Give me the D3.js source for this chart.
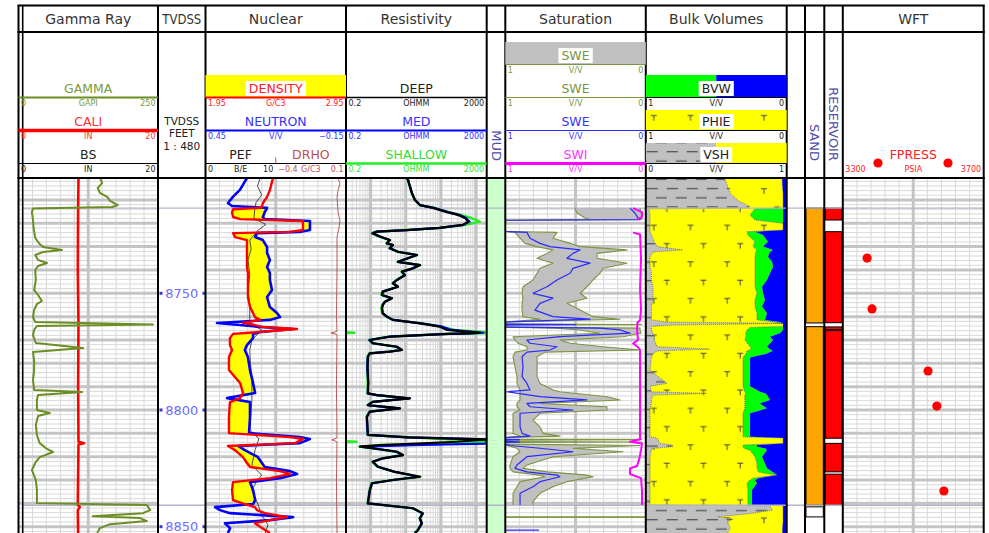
<!DOCTYPE html>
<html>
<head>
<meta charset="utf-8">
<title>Well log</title>
<script src="https://cdn.jsdelivr.net/npm/d3@7/dist/d3.min.js"></script>
<style>
  html, body { margin: 0; padding: 0; background: #fff; }
  svg { display: block; }
  text { font-family: "DejaVu Sans", sans-serif; }
</style>
</head>
<body>
<svg id="log" width="989" height="533"></svg>
<script>
// ---------- depth window and markers (feet TVDSS) ----------
const depthRange = [8700.6, 8852.7];
const depthLabels = [8750, 8800, 8850];
const zoneTops = [8713.5, 8840.8];

const trackTitles = ["Gamma Ray", "TVDSS", "Nuclear", "Resistivity", "", "Saturation", "Bulk Volumes", "", "", "", "WFT"];

// ---------- Gamma Ray track: [depth, value] ----------
const gammaRay = [
  [8700.6,146],[8702.7,150],[8704.9,142],[8707.0,146],[8708.7,159],[8710.4,164],[8712.2,178],[8713.0,168],
  [8713.7,26],[8715.2,24],[8718.6,26],[8722.0,27],[8726.3,30],[8728.9,38],[8730.2,44],[8731.4,78],
  [8732.3,44],[8733.6,30],[8735.7,35],[8737.0,51],[8738.3,35],[8740.0,30],[8744.3,31],[8748.6,28],
  [8750.7,35],[8753.3,42],[8754.6,33],[8757.2,28],[8760.2,26],[8762.3,30],[8763.4,241],[8764.0,33],
  [8765.7,28],[8767.9,26],[8771.3,31],[8773.4,116],[8775.2,26],[8778.6,28],[8782.9,28],[8787.2,26],
  [8791.4,28],[8792.3,114],[8793.6,35],[8795.7,33],[8800.0,33],[8801.3,56],[8802.6,35],[8806.4,31],
  [8810.7,33],[8814.2,38],[8816.7,51],[8818.0,62],[8820.2,38],[8822.7,30],[8825.7,24],[8830.0,31],
  [8834.3,33],[8839.9,33],[8840.7,230],[8842.9,236],[8844.2,223],[8845.5,133],[8846.3,218],[8847.6,230],
  [8848.9,164],[8850.6,146],[8852.7,141]
];
const caliper = [
  [8700.6,8.6],[8713.5,8.55],[8740,8.5],[8763,8.6],[8790,8.55],[8813.6,8.6],[8814.2,9.4],[8814.8,8.6],
  [8840.7,8.5],[8841.5,8.8],[8843,8.5],[8852.7,8.55]
];

// ---------- Nuclear track ----------
const nucDepth = [
  8700.6,8705.7,8708.7,8711.3,8712.6,8713.4,8714.0,8715.2,8717.3,8718.2,
  8719.0,8722.9,8723.7,8724.2,8725.9,8727.2,8730.2,8732.7,8735.7,8738.7,
  8741.3,8744.3,8748.6,8751.6,8755.9,8758.4,8760.2,8761.4,8762.7,8763.6,
  8764.4,8765.3,8766.6,8767.4,8769.2,8772.2,8774.3,8777.3,8782.9,8788.4,
  8792.7,8794.9,8796.6,8803.0,8809.9,8811.6,8812.4,8814.2,8815.4,8817.2,
  8820.2,8822.7,8824.4,8826.2,8827.4,8829.2,8830.9,8834.3,8838.6,8840.3,
  8841.6,8842.9,8844.2,8845.9,8847.2,8848.5,8850.6,8852.7
];
const neutron = [
  0.273,0.303,0.333,0.354,0.337,0.187,0.190,0.197,0.205,0.197,
  0.004,0.004,0.047,0.230,0.238,0.205,0.187,0.187,0.175,0.187,
  0.175,0.175,0.166,0.187,0.175,0.145,0.132,0.175,0.401,0.303,
  0.218,0.076,0.214,0.247,0.247,0.273,0.282,0.269,0.260,0.247,
  0.238,0.358,0.260,0.260,0.264,0.047,0.004,0.047,0.311,0.282,
  0.226,0.209,0.197,0.089,0.059,0.132,0.260,0.247,0.238,0.247,
  0.409,0.388,0.345,0.076,0.175,0.367,0.345,0.354
];
const density = [
  2.430,2.409,2.388,2.359,2.352,2.338,2.146,2.139,2.146,2.196,
  2.644,2.644,2.551,2.146,2.160,2.245,2.245,2.245,2.245,2.245,
  2.252,2.252,2.252,2.252,2.267,2.288,2.302,2.338,2.217,2.302,
  2.352,2.601,2.324,2.146,2.124,2.124,2.139,2.117,2.117,2.196,
  2.217,2.196,2.124,2.117,2.117,2.551,2.644,2.587,2.110,2.160,
  2.217,2.245,2.267,2.480,2.551,2.409,2.146,2.139,2.146,2.231,
  2.302,2.316,2.373,2.530,2.409,2.302,2.352,2.409
];
const pef = [
  [8700.6,7.8],[8704,7.4],[8707.9,8.0],[8711,7.2],[8714.3,7.0],[8718,6.9],[8720.5,8.6],[8722.9,7.5],
  [8727.2,6.3],[8731,6.5],[8735.7,6.05],[8742,6.3],[8748.6,6.05],[8753,6.2],[8757.2,6.3],[8762.3,6.3],
  [8764,7.0],[8765.7,8.0],[8770,6.6],[8774.3,6.3],[8780,6.4],[8787.2,6.6],[8795.7,6.6],[8800,6.5],
  [8808.6,6.3],[8812.3,7.6],[8817.2,7.05],[8823.6,6.6],[8827.9,8.0],[8831,7.2],[8834.3,6.6],[8840.7,7.5],
  [8845,8.0],[8849.3,8.9],[8852.7,8.5]
];
const drho = [
  [8700.6,0.043],[8703,0.057],[8706,0.043],[8709,0.036],[8715,0.043],[8719,0.057],[8722,0.05],[8726,0.036],
  [8740,0.036],[8760,0.032],[8766.3,0.036],[8767.0,-0.007],[8767.6,0.036],[8790,0.032],[8812.0,0.036],
  [8812.8,0.0],[8813.6,0.036],[8830,0.032],[8852.7,0.036]
];

// ---------- Resistivity track (ohm.m) ----------
const resDepth = [
  8700.6,8701.4,8707.1,8710.0,8712.2,8713.4,8715.2,8716.4,8717.7,8719.3,
  8720.7,8722.0,8722.9,8723.6,8724.3,8725.7,8727.2,8728.6,8729.3,8730.7,
  8732.2,8733.6,8735.0,8736.5,8737.9,8739.3,8740.7,8742.2,8744.3,8745.7,
  8747.2,8749.3,8750.7,8752.1,8753.6,8755.0,8756.4,8758.6,8760.0,8761.4,
  8762.9,8764.3,8765.7,8766.9,8767.2,8767.4,8768.6,8770.0,8771.4,8772.9,
  8774.3,8775.0,8775.7,8777.2,8782.0,8788.0,8792.9,8793.6,8795.0,8796.5,
  8797.9,8799.3,8800.7,8802.9,8810.7,8811.7,8812.6,8813.6,8814.4,8815.0,
  8815.7,8816.4,8817.9,8819.3,8820.7,8822.2,8824.3,8826.5,8828.6,8830.0,
  8831.4,8834.3,8840.0,8842.1,8844.3,8846.4,8848.6,8851.5,8852.7
];
const resDeep = [
  10.8,11.6,15.0,18.3,25.4,59.5,149,306,483,588,
  424,94,10.8,1.52,1.17,1.85,3.56,2.93,4.34,3.56,
  6.02,20.9,11.6,6.02,25.4,16.1,7.82,9.51,5.64,4.34,
  6.02,2.25,2.11,4.06,2.57,2.25,2.11,2.25,2.93,4.34,
  25.4,94,149,1291,600,181,3.56,0.96,1.17,5.64,
  7.82,3.56,0.96,0.84,0.82,0.86,0.84,1.52,13.2,1.17,
  0.84,6.86,0.96,0.79,0.84,10.8,2000,286,20,1.85,
  0.50,1.17,5.64,8.34,2.25,1.17,1.62,4.94,25.4,4.34,
  1.10,0.96,0.84,16.1,30.9,25.4,29.0,22.3,18.3
];
const resMed = [
  10.8,11.6,15.0,18.3,25.4,62,160,330,520,650,
  430,90,10.5,1.45,1.12,1.8,3.5,2.9,4.3,3.5,
  6.0,20,11.5,6.0,25,16,7.8,9.5,5.6,4.3,
  6.0,2.2,2.1,4.0,2.55,2.2,2.1,2.2,2.9,4.3,
  28,110,200,1600,700,150,3.2,0.92,1.15,5.5,
  7.6,3.4,0.94,0.83,0.81,0.85,0.83,1.5,12.5,1.15,
  0.83,6.7,0.95,0.78,0.83,12,2000,2000,1900,30,
  0.55,1.1,5.5,8.0,2.2,1.15,1.6,4.9,24,4.3,
  1.1,0.95,0.83,16,30,25,28,22,18
];
const resShallow = [
  10.5,11.3,14.6,18,25,65,170,380,700,1291,
  500,85,10,1.35,1.08,1.75,3.4,2.8,4.2,3.4,
  5.8,21,11,5.8,26,15.5,7.5,9.2,5.4,4.2,
  5.8,2.15,2.0,3.9,2.5,2.15,2.0,2.15,2.8,4.2,
  30,100,250,3500,800,120,3.0,0.9,1.1,5.3,
  7.4,3.3,0.92,0.82,0.8,0.83,0.82,1.45,12,1.1,
  0.82,6.5,0.92,0.77,0.82,13,150,4000,300,2.0,
  0.48,1.1,5.3,8.0,2.15,1.1,1.55,4.8,26,4.2,
  1.05,0.92,0.82,15.5,30,24.5,28,21.5,17.5
];

// ---------- Saturation track (v/v) ----------
const satDepth = [
  8713.5,8715.6,8717.7,8718.4,8718.7,8723.5,8723.9,8726.4,8728.6,8730.0,
  8731.4,8732.9,8735.0,8737.1,8739.3,8741.4,8744.3,8747.2,8750.0,8752.1,
  8754.3,8757.2,8760.0,8761.1,8762.3,8763.2,8763.4,8763.6,8764.5,8764.9,
  8765.7,8767.1,8768.6,8770.0,8771.4,8772.9,8774.3,8775.2,8777.2,8781.5,
  8785.7,8788.6,8791.4,8792.2,8794.3,8795.7,8797.2,8798.6,8800.0,8801.4,
  8804.3,8807.2,8810.0,8811.2,8811.8,8812.5,8812.7,8812.9,8813.5,8813.7,
  8813.9,8814.6,8815.2,8816.4,8817.9,8820.0,8823.6,8825.0,8826.5,8827.9,
  8828.6,8830.7,8832.9,8835.7,8839.3,8840.7,8840.8,8845.9,8845.9,8846.0,
  8851.5,8851.5
];
const sweHigh = [
  0.504,0.490,0.433,0.397,1,1,0.931,0.895,0.860,0.774,
  0.661,0.703,0.774,0.661,0.753,0.774,0.803,0.874,0.881,0.874,
  0.881,0.881,0.874,0.753,1,1,0.90,1,1,0.661,
  0.468,0.326,0.945,0.931,0.910,0.846,0.846,0.931,0.945,0.931,
  0.917,0.917,0.895,0.895,0.895,0.895,0.917,0.917,0.895,0.945,
  0.945,0.945,0.945,0.895,1,1,0.95,1,1,0.95,
  1,1,0.988,0.917,0.895,0.945,0.967,0.967,0.945,0.753,
  0.718,0.895,0.917,0.945,0.945,0.945,null,1,0,null,
  null,null
];
const swe = [
  0.112,0.078,0.056,0.041,1,1,0.846,0.824,0.753,0.682,
  0.468,0.518,0.561,0.397,0.518,0.539,0.632,0.703,0.803,0.661,
  0.753,0.789,0.661,0.397,1,1,0.50,1,1,0.326,
  0.183,0.112,0.611,0.846,0.824,0.632,0.682,0.846,0.881,0.874,
  0.881,0.846,0.824,0.988,0.753,0.419,0.846,0.824,0.518,0.895,
  0.895,0.895,0.881,0.824,1,1,0.90,1,1,0.90,
  1,1,0.967,0.753,0.518,0.846,0.917,0.931,0.846,0.632,
  0.611,0.753,0.803,0.895,0.895,0.895,null,null,null,null,
  1,0.76
];
const sweLow = [
  0.041,0.034,0.027,0.027,1,1,0.632,0.661,0.539,0.468,
  0.134,0.347,0.347,0.134,0.304,0.326,0.375,0.419,0.468,0.419,
  0.561,0.468,0.375,0.183,1,1,0.03,1,1,0.041,
  0.041,0.034,0.162,0.611,0.539,0.304,0.041,0.718,0.774,0.774,
  0.774,0.753,0.661,0.611,0.276,0.183,0.753,0.276,0.276,0.753,
  0.803,0.753,0.732,0.611,1,1,0.03,1,1,0.03,
  1,1,0.041,0.518,0.162,0.661,0.846,0.874,0.703,0.419,
  0.375,0.561,0.661,0.753,0.803,0.803,null,1,0,null,
  null,null
];
const swi = [
  [8713.5,0.091],[8715.2,0.027],[8717.3,0.027],[8718.4,0.063],[8718.7,null],
  [8723.9,0.091],[8724.8,0.041],[8735.0,0.034],[8748.0,0.041],[8757.0,0.034],[8761.5,0.041],
  [8762.5,0.06],[8764.0,0.06],[8764.9,0.063],[8770.0,0.056],[8771.5,0.090],[8773.0,0.056],
  [8774.3,0.041],[8790,0.041],[8811.2,0.041],[8812.5,0.041],[8813.6,0.112],[8814.4,0.027],
  [8817.2,0.034],[8821.4,0.048],[8824.0,0.063],[8825.0,0.112],[8827.5,0.112],[8829.2,0.034],
  [8834.3,0.027],[8840.7,0.027]
];

// ---------- Bulk volumes (v/v) ----------
const bulkDepth = [
  8700.6,8704.3,8707.1,8710.0,8711.4,8712.9,8713.5,8713.8,8716.4,8718.6,
  8720.0,8722.9,8723.6,8725.0,8727.9,8730.0,8731.4,8732.3,8734.3,8736.5,
  8738.6,8741.4,8744.3,8747.2,8750.0,8752.9,8755.7,8758.6,8761.4,8762.3,
  8762.9,8763.6,8764.2,8764.6,8765.7,8767.1,8768.6,8770.0,8772.9,8773.9,
  8774.7,8776.0,8777.5,8782.9,8788.6,8789.8,8792.2,8792.9,8793.6,8795.7,
  8797.2,8799.3,8801.4,8811.5,8812.0,8814.3,8815.0,8815.7,8816.5,8817.2,
  8820.0,8822.9,8825.0,8826.6,8827.9,8829.2,8830.0,8831.4,8834.3,8840.7,
  8841.0,8842.9,8844.3,8845.8,8846.7,8848.0,8850.6,8852.7
];
const vsh = [
  0.56,0.58,0.60,0.65,0.69,0.74,0.72,0.02,0.03,0.03,
  0.03,0.03,0.03,0.04,0.06,0.08,0.26,0.05,0.03,0.03,
  0.03,0.04,0.04,0.05,0.05,0.05,0.04,0.04,0.04,0.15,
  0.97,0.20,0.04,0.04,0.04,0.05,0.06,0.06,0.08,0.45,
  0.08,0.05,0.04,0.03,0.15,0.03,0.04,0.43,0.05,0.04,
  0.04,0.03,0.03,0.03,0.08,0.10,0.19,0.19,0.04,0.04,
  0.03,0.03,0.03,0.03,0.03,0.03,0.03,0.03,0.03,0.03,
  0.88,0.90,0.75,0.51,0.62,0.58,0.60,0.58
];
const phie = [
  0.033,0.030,0.026,0.026,0.026,0.026,0.026,0.225,0.260,0.225,
  0.026,0.026,0.282,0.275,0.225,0.239,0.211,0.220,0.225,0.225,
  0.225,0.225,0.225,0.225,0.211,0.225,0.225,0.211,0.211,0.100,
  0.026,0.026,0.026,0.260,0.282,0.290,0.290,0.297,0.260,0.250,
  0.282,0.290,0.310,0.310,0.310,0.310,0.297,0.290,0.297,0.297,
  0.297,0.297,0.310,0.310,0.026,0.026,0.310,0.310,0.300,0.260,
  0.225,0.211,0.211,0.200,0.069,0.240,0.260,0.282,0.275,0.275,
  0.026,0.026,0.026,0.026,0.026,0.026,0.030,0.030
];
const bvw = [
  0.033,0.030,0.026,0.026,0.026,0.026,0.026,0.026,0.026,0.026,
  0.026,0.026,0.225,0.168,0.133,0.168,0.097,0.120,0.133,0.104,
  0.097,0.119,0.140,0.175,0.168,0.154,0.175,0.140,0.154,0.050,
  0.026,0.026,0.026,0.026,0.026,0.048,0.119,0.097,0.140,0.120,
  0.100,0.150,0.260,0.260,0.260,0.260,0.190,0.150,0.140,0.119,
  0.190,0.140,0.260,0.260,0.026,0.026,0.211,0.211,0.150,0.140,
  0.175,0.154,0.140,0.100,0.069,0.200,0.225,0.211,0.246,0.246,
  0.026,0.026,0.026,0.026,0.026,0.026,0.030,0.030
];

// ---------- Flags: [top, base] ----------
const sandFlags = [[8713.5, 8762.7], [8764.3, 8840.8]];
const nonSandFlags = [[8841.5, 8845.8]];
const reservoirFlags = [[8713.5, 8718.6], [8723.6, 8762.6], [8764.4, 8765.5], [8766.0, 8812.1], [8814.3, 8826.5], [8827.5, 8840.8]];

// ---------- Formation tester pressures ----------
const wftDepth = [8734.9, 8756.7, 8783.3, 8798.3, 8834.7];
const wftPressure = [3369, 3383, 3542, 3567, 3587];

// =====================================================================
const W = 989, H = 533;
const X = {
  gr: [18.5, 158], tvd: [158, 205.5], nuc: [205.5, 346], res: [346, 486.7], mud: [486.7, 505.3],
  sat: [505.3, 645.8], bulk: [645.8, 786.7], gap: [786.7, 805], sand: [805, 824.3], resv: [824.3, 842.8], wft: [842.8, 983.7]
};
const trackKeys = Object.keys(X);
const yTop = 5.5, yTitle = 32, yData = 178;

const y = d3.scaleLinear().domain(depthRange).range([yData, H]);
const xGR = d3.scaleLinear().domain([0, 250]).range(X.gr);
const xCali = d3.scaleLinear().domain([0, 20]).range(X.gr);
const xDen = d3.scaleLinear().domain([1.95, 2.95]).range(X.nuc);
const xNeu = d3.scaleLinear().domain([0.45, -0.15]).range(X.nuc);
const nucMid = (X.nuc[0] + X.nuc[1]) / 2;
const xPef = d3.scaleLinear().domain([0, 10]).range([X.nuc[0], nucMid]);
const xDrho = d3.scaleLinear().domain([-0.4, 0.1]).range([nucMid, X.nuc[1]]);
const xRes = d3.scaleLog().domain([0.2, 2000]).range(X.res);
const xSat = d3.scaleLinear().domain([1, 0]).range(X.sat);
const xVsh = d3.scaleLinear().domain([0, 1]).range(X.bulk);
const xPor = d3.scaleLinear().domain([1, 0]).range(X.bulk);
const xPress = d3.scaleLinear().domain([3300, 3700]).range(X.wft);

const svg = d3.select("#log");
const defs = svg.append("defs");
trackKeys.forEach(k => {
  defs.append("clipPath").attr("id", "clip-" + k).append("rect")
    .attr("x", X[k][0]).attr("y", yData).attr("width", X[k][1] - X[k][0]).attr("height", H - yData);
});

// matrix (sand) pattern: yellow with T symbols
const matrix = defs.append("pattern").attr("id", "matrix").attr("patternUnits", "userSpaceOnUse")
  .attr("x", X.bulk[0]).attr("y", 0).attr("width", 36.7).attr("height", 36.6);
matrix.append("rect").attr("width", 36.7).attr("height", 36.6).attr("fill", "#ffff00");
[[8, 5.8], [21, 24.1]].forEach(([px, py]) => {
  matrix.append("path").attr("d", `M${px - 3},${py}h6M${px},${py}v5`)
    .attr("stroke", "#444").attr("stroke-width", 1).attr("fill", "none");
});
// shale pattern: grey with dashes
const shale = defs.append("pattern").attr("id", "shale").attr("patternUnits", "userSpaceOnUse")
  .attr("x", X.bulk[0]).attr("y", 0).attr("width", 20).attr("height", 18.4);
shale.append("rect").attr("width", 20).attr("height", 18.4).attr("fill", "#c0c0c0");
shale.append("path").attr("d", "M1,4.5h11M10,13.7h10M0,13.7h1")
  .attr("stroke", "#333").attr("stroke-width", 1).attr("fill", "none");

const gridLayer = svg.append("g");
const fillLayer = svg.append("g");
const zoneLayer = svg.append("g");
const curveLayer = svg.append("g");
const frameLayer = svg.append("g");
const headLayer = svg.append("g");

// ---------- grids ----------
const gridMinor = "#d8d8d8", gridMajor = "#c4c4c4";
const gridDepths = d3.range(Math.ceil(depthRange[0] / 2) * 2, depthRange[1], 2);
function hLines(g, ds, [a, b], color, w) {
  g.append("g").selectAll("line").data(ds).join("line")
    .attr("x1", a).attr("x2", b).attr("y1", d => y(d)).attr("y2", d => y(d))
    .attr("stroke", color).attr("stroke-width", w);
}
function vLines(g, xs, color, w) {
  g.append("g").selectAll("line").data(xs).join("line")
    .attr("x1", d => d).attr("x2", d => d).attr("y1", yData).attr("y2", H)
    .attr("stroke", color).attr("stroke-width", w);
}
function trackGrid(key, minorX, majorX) {
  const g = gridLayer.append("g").attr("clip-path", `url(#clip-${key})`);
  hLines(g, gridDepths.filter(d => d % 10 !== 0), X[key], gridMinor, 1);
  vLines(g, minorX, gridMinor, 1);
  hLines(g, gridDepths.filter(d => d % 10 === 0), X[key], gridMajor, 3);
  vLines(g, majorX, gridMajor, 3);
}
function linearGrid(key, scale) {
  const [d0, d1] = scale.domain();
  const vals = d3.range(1, 10).map(i => d0 + i * (d1 - d0) / 10);
  trackGrid(key, vals.filter((v, i) => i !== 4).map(scale), [scale(vals[4])]);
}
linearGrid("gr", xGR);
linearGrid("nuc", xDen);
linearGrid("sat", xSat);
linearGrid("wft", xPress);
{
  const ticks = xRes.ticks().filter(v => v > 0.2 && v < 2000);
  const isDecade = v => Math.abs(Math.log10(v) - Math.round(Math.log10(v))) < 1e-6;
  trackGrid("res", ticks.filter(v => !isDecade(v)).map(xRes), ticks.filter(isDecade).map(xRes));
}

// ---------- fills ----------
// mud column
fillLayer.append("rect").attr("x", X.mud[0]).attr("y", yData).attr("width", X.mud[1] - X.mud[0])
  .attr("height", H - yData).attr("fill", "#ccffcc");

// nuclear crossover (density left of neutron)
const nuc = nucDepth.map((d, i) => ({ d, n: neutron[i], r: density[i] }));
fillLayer.append("path").datum(nuc).attr("clip-path", "url(#clip-nuc)")
  .attr("d", d3.area().y(p => y(p.d)).x0(p => xDen(p.r)).x1(p => Math.max(xDen(p.r), xNeu(p.n))))
  .attr("fill", "#ffff00");

// saturation band
const sat = satDepth.map((d, i) => ({ d, hi: sweHigh[i], mid: swe[i], lo: sweLow[i] }));
fillLayer.append("path").datum(sat).attr("clip-path", "url(#clip-sat)")
  .attr("d", d3.area().defined(p => p.hi != null && p.lo != null)
    .y(p => y(p.d)).x0(p => xSat(p.hi)).x1(p => xSat(p.lo)))
  .attr("fill", "#c0c0c0");

// bulk volumes
const bulk = bulkDepth.map((d, i) => ({ d, vsh: vsh[i], phie: phie[i], bvw: bvw[i] }));
const vArea = (x0, x1) => d3.area().y(p => y(p.d)).x0(x0).x1(x1);
const bulkG = fillLayer.append("g").attr("clip-path", "url(#clip-bulk)");
bulkG.append("path").datum(bulk).attr("d", vArea(() => X.bulk[0], p => xVsh(p.vsh))).attr("fill", "url(#shale)");
bulkG.append("path").datum(bulk).attr("d", vArea(p => xVsh(p.vsh), p => xPor(p.phie))).attr("fill", "url(#matrix)");
bulkG.append("path").datum(bulk).attr("d", vArea(p => xPor(p.phie), p => xPor(p.bvw))).attr("fill", "#00ff00");
bulkG.append("path").datum(bulk).attr("d", vArea(p => xPor(p.bvw), () => X.bulk[1])).attr("fill", "#0000ff");
bulkG.append("path").datum(bulk).attr("d", d3.line().y(p => y(p.d)).x(p => xVsh(p.vsh)))
  .attr("fill", "none").attr("stroke", "#555").attr("stroke-width", 0.8).attr("stroke-dasharray", "1,1");
bulkG.append("path").datum(bulk).attr("d", d3.line().y(p => y(p.d)).x(p => xPor(p.phie)))
  .attr("fill", "none").attr("stroke", "#555").attr("stroke-width", 0.8).attr("stroke-dasharray", "1,1");

// sand and reservoir flags
function flags(key, intervals, color) {
  fillLayer.append("g").selectAll("rect").data(intervals).join("rect")
    .attr("x", X[key][0] + 1).attr("width", X[key][1] - X[key][0] - 2)
    .attr("y", d => y(d[0])).attr("height", d => y(d[1]) - y(d[0]))
    .attr("fill", color).attr("stroke", "#000").attr("stroke-width", 1);
}
flags("sand", sandFlags, "#ffa500");
flags("sand", nonSandFlags, "#ffffff");
flags("resv", reservoirFlags, "#ff0000");

// zone tops across the log
zoneLayer.selectAll("line").data(zoneTops).join("line")
  .attr("x1", 22.7).attr("x2", X.wft[1]).attr("y1", d => y(d)).attr("y2", d => y(d))
  .attr("stroke", "#b4b4c8").attr("stroke-width", 1.4);

// ---------- curves ----------
function curve(key, data, xs, color, width, extra) {
  const p = curveLayer.append("path").datum(data).attr("clip-path", `url(#clip-${key})`)
    .attr("d", d3.line().defined(d => d[1] != null).x(d => xs(d[1])).y(d => y(d[0])))
    .attr("fill", "none").attr("stroke", color).attr("stroke-width", width)
    .attr("stroke-linejoin", "round");
  if (extra) extra(p);
  return p;
}
const zip = (ds, vs) => ds.map((d, i) => [d, vs[i]]);

curve("gr", caliper, xCali, "#ff0000", 2.6);
curve("gr", gammaRay, xGR, "#6b8e23", 2);

curve("nuc", drho, xDrho, "#b04848", 0.9);
curve("nuc", pef, xPef, "#222", 0.8);
curve("nuc", zip(nucDepth, neutron), xNeu, "#0000ff", 2.6);
curve("nuc", zip(nucDepth, density), xDen, "#ff0000", 2.4);

// shallow resistivity readings above 2000 wrap onto the backup scale
function wrapSegments(ds, vs, max) {
  const segs = []; let cur = null;
  const cross = i => {
    const t = (Math.log(max) - Math.log(vs[i - 1])) / (Math.log(vs[i]) - Math.log(vs[i - 1]));
    return [ds[i - 1] + t * (ds[i] - ds[i - 1]), max];
  };
  vs.forEach((v, i) => {
    if (v > max) {
      if (!cur) { cur = []; if (i > 0) cur.push(cross(i)); segs.push(cur); }
      cur.push([ds[i], v]);
    } else if (cur) { cur.push(cross(i)); cur = null; }
  });
  return segs;
}
curve("res", zip(resDepth, resShallow), xRes, "#22ee22", 2.4);
wrapSegments(resDepth, resShallow, 2000).forEach(seg => {
  curve("res", seg, v => xRes(v / 1e4), "#22ee22", 2.4);
});
curve("res", zip(resDepth, resMed), xRes, "#0000ff", 2.2);
curve("res", zip(resDepth, resDeep), xRes, "#000000", 2.2);

curve("sat", zip(satDepth, sweHigh), xSat, "#7d9440", 1.1);
curve("sat", zip(satDepth, sweLow), xSat, "#7d9440", 1.1);
curve("sat", zip(satDepth, swe), xSat, "#2a2aff", 1.2);
curve("sat", swi, xSat, "#ff00ff", 2);

curveLayer.append("g").attr("clip-path", "url(#clip-wft)").selectAll("circle")
  .data(wftDepth.map((d, i) => [d, wftPressure[i]])).join("circle")
  .attr("cx", d => xPress(d[1])).attr("cy", d => y(d[0])).attr("r", 4.6).attr("fill", "#ff0000");

// ---------- depth labels ----------
const tvdMid = (X.tvd[0] + X.tvd[1]) / 2;
const dl = curveLayer.append("g").selectAll("g").data(depthLabels).join("g");
dl.append("text").attr("x", tvdMid).attr("y", d => y(d)).attr("dy", "0.36em")
  .attr("text-anchor", "middle").attr("font-size", 13).attr("fill", "#6b6bff").text(d => d);
dl.append("rect").attr("x", X.tvd[0] + 1.5).attr("y", d => y(d) - 1.5).attr("width", 3).attr("height", 3).attr("fill", "#3a3acc");
dl.append("rect").attr("x", X.tvd[1] - 3).attr("y", d => y(d) - 1.5).attr("width", 3).attr("height", 3).attr("fill", "#3a3acc");

// ---------- frame ----------
const borders = [...new Set(trackKeys.flatMap(k => X[k]))];
frameLayer.selectAll("line.v").data(borders).join("line").attr("class", "v")
  .attr("x1", d => d).attr("x2", d => d).attr("y1", yTop).attr("y2", H)
  .attr("stroke", "#000").attr("stroke-width", 2);
frameLayer.append("line").attr("x1", 22.7).attr("x2", 22.7).attr("y1", yTop).attr("y2", H)
  .attr("stroke", "#000").attr("stroke-width", 1.6);
frameLayer.selectAll("line.h").data([yTop, yTitle, yData]).join("line").attr("class", "h")
  .attr("x1", X.gr[0] - 1).attr("x2", X.wft[1] + 1).attr("y1", d => d).attr("y2", d => d)
  .attr("stroke", "#000").attr("stroke-width", 2);

// ---------- header ----------
trackKeys.forEach((k, i) => {
  if (!trackTitles[i]) return;
  const t = headLayer.append("text").attr("x", (X[k][0] + X[k][1]) / 2).attr("y", 23.5)
    .attr("text-anchor", "middle").attr("font-size", 14).attr("fill", "#333").text(trackTitles[i]);
  if (k === "tvd") t.attr("textLength", 39).attr("lengthAdjust", "spacingAndGlyphs");
});

function boxedText(x, yb, text, color, size) {
  const g = headLayer.append("g");
  const r = g.append("rect").attr("fill", "#fff");
  const t = g.append("text").attr("x", x).attr("y", yb).attr("text-anchor", "middle")
    .attr("font-size", size).attr("fill", color).text(text);
  const bb = t.node().getBBox();
  r.attr("x", bb.x - 3).attr("y", bb.y).attr("width", bb.width + 6).attr("height", bb.height);
}
function label(x, yb, text, color, boxed) {
  if (boxed) return boxedText(x, yb, text, color, 12.5);
  headLayer.append("text").attr("x", x).attr("y", yb).attr("text-anchor", "middle")
    .attr("font-size", 12.5).attr("fill", color).text(text);
}
function scaleText([a, b], yl, color, left, unit, right) {
  const g = headLayer.append("g").attr("font-size", 8).attr("fill", color);
  g.append("text").attr("x", a + 2.5).attr("y", yl + 8).text(left);
  g.append("text").attr("x", (a + b) / 2).attr("y", yl + 8).attr("text-anchor", "middle").text(unit);
  g.append("text").attr("x", b - 2.5).attr("y", yl + 8).attr("text-anchor", "end").text(right);
}
function hline([a, b], yl, color, w) {
  headLayer.append("line").attr("x1", a).attr("x2", b).attr("y1", yl).attr("y2", yl)
    .attr("stroke", color).attr("stroke-width", w);
}
function legend(key, yl, name, color, textColor, w, left, unit, right, boxed) {
  const span = X[key];
  hline(span, yl, color, w);
  label((span[0] + span[1]) / 2, yl - 4.5, name, textColor, boxed);
  scaleText(span, yl, textColor, left, unit, right);
}
const rows = [64.5, 97.5, 130.5, 163.5];

// Gamma Ray
legend("gr", rows[1], "GAMMA", "#6b8e23", "#7a9a3a", 2, "0", "GAPI", "250");
legend("gr", rows[2], "CALI", "#ff0000", "#ff3030", 3.5, "0", "IN", "20");
legend("gr", rows[3], "BS", "#000", "#222", 1, "0", "IN", "20");

// TVDSS
[["TVDSS", 125], ["FEET", 136.5], ["1 : 480", 150]].forEach(([t, yb]) => {
  headLayer.append("text").attr("x", tvdMid).attr("y", yb).attr("text-anchor", "middle")
    .attr("font-size", 10.5).attr("fill", "#222").text(t);
});

// Nuclear
headLayer.append("rect").attr("x", X.nuc[0]).attr("y", 75).attr("width", X.nuc[1] - X.nuc[0])
  .attr("height", rows[1] - 75).attr("fill", "#ffff00");
legend("nuc", rows[1], "DENSITY", "#ff0000", "#ff2020", 2, "1.95", "G/C3", "2.95", true);
legend("nuc", rows[2], "NEUTRON", "#0000ff", "#3333ff", 2, "0.45", "V/V", "\u22120.15");
hline(X.nuc, rows[3], "#000", 1);
label((X.nuc[0] + nucMid) / 2, rows[3] - 4.5, "PEF", "#222");
label((nucMid + X.nuc[1]) / 2, rows[3] - 4.5, "DRHO", "#c05050");
scaleText([X.nuc[0], nucMid], rows[3], "#222", "0", "B/E", "10");
scaleText([nucMid, X.nuc[1]], rows[3], "#c05050", "\u22120.4", "G/C3", "0.1");
headLayer.append("line").attr("x1", nucMid).attr("x2", nucMid).attr("y1", rows[3] - 6).attr("y2", rows[3])
  .attr("stroke", "#c05050").attr("stroke-width", 1);

// Resistivity
legend("res", rows[1], "DEEP", "#000", "#222", 1.5, "0.2", "OHMM", "2000");
legend("res", rows[2], "MED", "#0000ff", "#3333ff", 2, "0.2", "OHMM", "2000");
legend("res", rows[3], "SHALLOW", "#22ee22", "#33dd33", 2.5, "0.2", "OHMM", "2000");

// Saturation
headLayer.append("rect").attr("x", X.sat[0]).attr("y", 42).attr("width", X.sat[1] - X.sat[0])
  .attr("height", rows[0] - 42).attr("fill", "#c0c0c0");
legend("sat", rows[0], "SWE", "#7d9440", "#7d9440", 1, "1", "V/V", "0", true);
legend("sat", rows[1], "SWE", "#7d9440", "#7d9440", 1, "1", "V/V", "0");
legend("sat", rows[2], "SWE", "#2a2aff", "#3333ff", 1, "1", "V/V", "0");
legend("sat", rows[3], "SWI", "#ff00ff", "#ff33ff", 3, "1", "V/V", "0");

// Bulk Volumes
const bMid = (X.bulk[0] + X.bulk[1]) / 2;
headLayer.append("rect").attr("x", X.bulk[0]).attr("y", 75).attr("width", bMid - X.bulk[0]).attr("height", rows[1] - 75).attr("fill", "#00ff00");
headLayer.append("rect").attr("x", bMid).attr("y", 75).attr("width", X.bulk[1] - bMid).attr("height", rows[1] - 75).attr("fill", "#0000ff");
headLayer.append("rect").attr("x", X.bulk[0]).attr("y", 110).attr("width", X.bulk[1] - X.bulk[0]).attr("height", rows[2] - 110).attr("fill", "url(#matrix)");
headLayer.append("rect").attr("x", X.bulk[0]).attr("y", 143).attr("width", bMid - X.bulk[0]).attr("height", rows[3] - 143).attr("fill", "url(#shale)");
headLayer.append("rect").attr("x", bMid).attr("y", 143).attr("width", X.bulk[1] - bMid).attr("height", rows[3] - 143).attr("fill", "#ffff00");
legend("bulk", rows[1], "BVW", "#000", "#222", 1, "1", "V/V", "0", true);
legend("bulk", rows[2], "PHIE", "#000", "#222", 1, "1", "V/V", "0", true);
legend("bulk", rows[3], "VSH", "#000", "#222", 1, "0", "V/V", "1", true);

// vertical track labels
[["MUD", 491.8], ["SAND", 810], ["RESERVOIR", 829]].forEach(([t, x]) => {
  headLayer.append("text").attr("transform", `translate(${x},161) rotate(90)`)
    .attr("text-anchor", "end").attr("font-size", 13).attr("fill", "#5050a8").text(t);
});

// WFT
const wMid = (X.wft[0] + X.wft[1]) / 2;
label(wMid, 159, "FPRESS", "#ff2020");
headLayer.selectAll("circle.key").data([878, 948]).join("circle").attr("class", "key")
  .attr("cx", d => d).attr("cy", 163).attr("r", 4.6).attr("fill", "#ff0000");
scaleText(X.wft, rows[3], "#ff2020", "3300", "PSIA", "3700");
</script>
</body>
</html>
